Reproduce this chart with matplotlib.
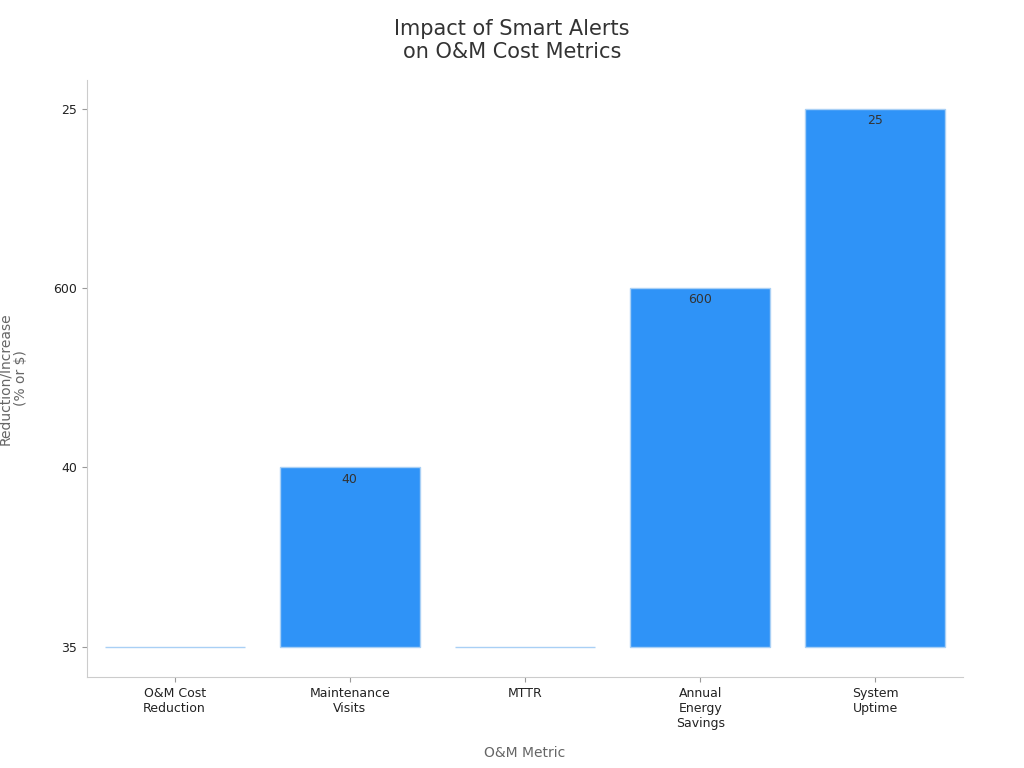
import matplotlib
matplotlib.use("Agg")
import matplotlib.pyplot as plt

categories = ["O&M Cost\nReduction", "Maintenance\nVisits", "MTTR", "Annual\nEnergy\nSavings", "System\nUptime"]
values = [35, 40, 35, 600, 25]
y_levels = [35, 40, 600, 25]  # categorical y axis order, bottom to top

idx = [y_levels.index(v) for v in values]

fig = plt.figure(figsize=(10.24, 7.68), dpi=100)
ax = fig.add_axes([87/1024, 1-677/768, (963-87)/1024, (677-80)/768])
x = list(range(len(categories)))
ax.bar(x, idx, width=0.8, color="#2f93f7", edgecolor="#a9d0f5", linewidth=1)
for xi, i, v in zip(x, idx, values):
    if i > 0:
        ax.text(xi, i - 0.03, str(v), ha="center", va="top", fontsize=9, color="#333333")
ax.set_xlim(-0.5, 4.5)
ax.set_ylim(-0.17, 3.16)
ax.set_yticks(range(len(y_levels)))
ax.set_yticklabels([str(v) for v in y_levels], fontsize=9, color="#222222")
ax.set_xticks(x)
ax.set_xticklabels(categories, fontsize=9, color="#222222")
for s in ["top", "right"]:
    ax.spines[s].set_visible(False)
for s in ["left", "bottom"]:
    ax.spines[s].set_color("#cccccc")
ax.tick_params(colors="#999999", labelcolor="#222222")
ax.set_xlabel("O&M Metric", fontsize=10, color="#666666", labelpad=12)
ax.set_ylabel("Reduction/Increase\n(% or $)", fontsize=10, color="#666666", labelpad=18)
fig.suptitle("Impact of Smart Alerts\non O&M Cost Metrics", fontsize=15, color="#333333", y=0.975)
fig.savefig("out.png", dpi=100)
